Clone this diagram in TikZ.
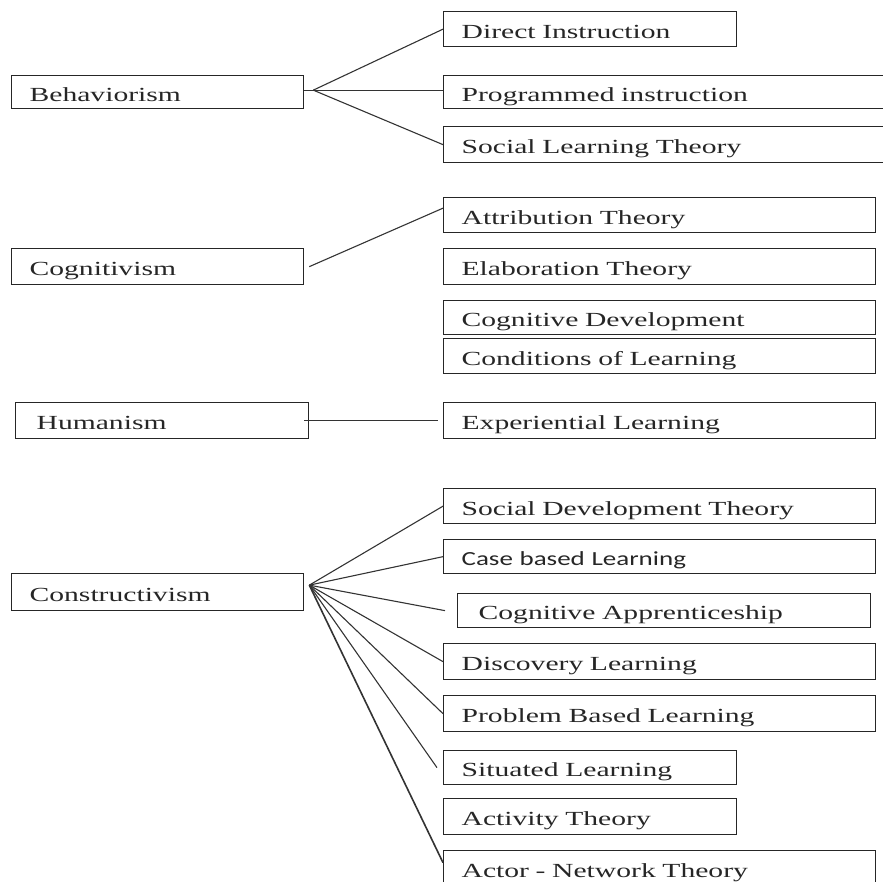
\documentclass[tikz,border=0pt]{standalone}
\usepackage{fontspec}
\setmainfont{Liberation Serif}[FakeStretch=1.48]
\newfontfamily\casefont{Carlito}[FakeStretch=1.35]
\usepackage{tikz}
\usetikzlibrary{calc}

\tikzset{
  box/.style={draw=black!85, line width=1.3pt, anchor=north west,
    minimum height=35pt, inner xsep=18pt, inner ysep=0pt,
    text height=18pt, text depth=0pt, align=left, text width=#1,
    font=\fontsize{20}{24}\selectfont, text=black!85},
  link/.style={draw=black!80, line width=1.1pt}
}

\begin{document}
\begin{tikzpicture}[x=1pt,y=-1pt]
\useasboundingbox (0,0) rectangle (883,882);
\clip (0,0) rectangle (883,882);
%% theories
\node[box=256pt, minimum height=33pt] (beh) at (11,75) {Behaviorism};
\node[box=256pt, minimum height=36pt] (cog) at (11,248) {Cognitivism};
\node[box=251pt, inner xsep=21pt, minimum height=36pt] (hum) at (15,402) {Humanism};
\node[box=256pt, minimum height=37pt] (con) at (11,573) {Constructivism};
%% models
\node[box=257pt] (di) at (443,11) {Direct Instruction};
\node[box=411pt, minimum height=33pt] (pi) at (443,75) {Programmed instruction};
\node[box=411pt, minimum height=36pt] (slt) at (443,126) {Social Learning Theory};
\node[box=396pt] (att) at (443,197) {Attribution Theory};
\node[box=396pt, minimum height=36pt] (ela) at (443,248) {Elaboration Theory};
\node[box=396pt, minimum height=34pt] (cdev) at (443,300) {Cognitive Development};
\node[box=396pt] (col) at (443,338) {Conditions of Learning};
\node[box=396pt, minimum height=36pt] (exp) at (443,402) {Experiential Learning};
\node[box=396pt] (sdt) at (443,488) {Social Development Theory};
\node[box=396pt, minimum height=34pt, font=\casefont\fontsize{20}{24}\selectfont] (cbl) at (443,539) {Case based Learning};
\node[box=371pt, inner xsep=21pt, minimum height=34pt] (capp) at (457,593) {Cognitive Apprenticeship};
\node[box=396pt, minimum height=36pt] (dis) at (443,643) {Discovery Learning};
\node[box=396pt, minimum height=36pt] (pbl) at (443,695) {Problem Based Learning};
\node[box=257pt, minimum height=34pt] (sit) at (443,750) {Situated Learning};
\node[box=257pt, minimum height=36pt] (act) at (443,798) {Activity Theory};
\node[box=396pt, minimum height=36pt] (ant) at (443,850) {Actor - Network Theory};
%% links
\coordinate (behhub) at ([xshift=9pt,yshift=2pt]beh.east);
\draw[link] ([yshift=2pt]beh.east) -- ([yshift=2pt]pi.west);
\draw[link] (behhub) -- (di.west);
\draw[link] (behhub) -- (slt.west);
\draw[link] ([xshift=5pt]cog.east) -- ([yshift=7pt]att.west);
\draw[link] ([xshift=-5pt]hum.east) -- ([xshift=-5pt]exp.west);
\coordinate (conhub) at ([xshift=5pt,yshift=7pt]con.east);
\foreach \t in {sdt,cbl,dis,pbl}
    \draw[link] (conhub) -- (\t.west);
\draw[link] (conhub) -- ([xshift=-12pt]capp.west);
\draw[link] (conhub) -- ([xshift=-6pt]sit.west);
\draw[link, line width=1.6pt] (conhub) -- ([yshift=6pt]ant.west);
\end{tikzpicture}
\end{document}
